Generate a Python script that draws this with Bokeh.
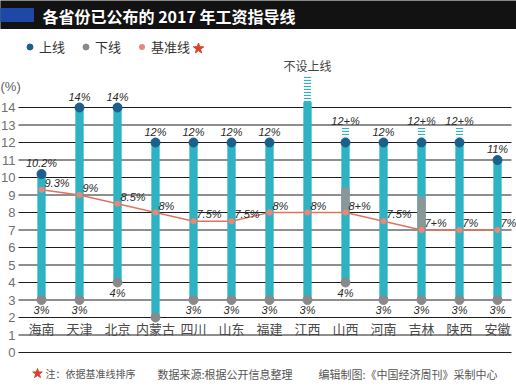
from bokeh.plotting import figure
from bokeh.models import Range1d, Legend, LegendItem
from bokeh.core.properties import value
from bokeh.embed import file_html
from bokeh.resources import INLINE

# ---------------- data ----------------
provinces = ["海南", "天津", "北京", "内蒙古", "四川", "山东", "福建",
             "江西", "山西", "河南", "吉林", "陕西", "安徽"]
upper = [10.2, 14, 14, 12, 12, 12, 12, None, 12, 12, 12, 12, 11]
upper_labels = ["10.2%", "14%", "14%", "12%", "12%", "12%", "12%",
                "不设上线", "12+%", "12%", "12+%", "12+%", "11%"]
# open-ended upper limits (striped extension)
ext_bottom = [None, None, None, None, None, None, None, 14.3, 12.3, None, 12.3, 12.3, None]
ext_top = [None, None, None, None, None, None, None, 15.85, 12.85, None, 12.85, 12.85, None]
lower = [3, 3, 4, 2, 3, 3, 3, 3, 4, 3, 3, 3, 3]
lower_labels = ["3%", "3%", "4%", "", "3%", "3%", "3%", "3%", "4%", "3%", "3%", "3%", "3%"]
base = [9.3, 9, 8.5, 8, 7.5, 7.5, 8, 8, 8, 7.5, 7, 7, 7]
base_labels = ["9.3%", "9%", "8.5%", "8%", "7.5%", "7.5%", "8%", "8%",
               "8+%", "7.5%", "7+%", "7%", "7%"]
base_range_top = [None, None, None, None, None, None, None, None, 9.4, None, 8.9, None, None]
y_ticks = list(range(0, 15))
y_tick_labels = [str(t) for t in y_ticks]

title = "各省份已公布的 2017 年工资指导线"
legend_labels = ["上线", "下线", "基准线"]
note = "注：依据基准线排序"
source_txt = "数据来源:根据公开信息整理"
editor_txt = "编辑制图:《中国经济周刊》采制中心"

# ---------------- layout ----------------
W, H = 516, 388
X0, X1 = -41 / 38, 12 + 19 / 38
Y0, Y1 = -36 / 17.5, 352 / 17.5


def px(xp):  # pixel -> data x
    return X0 + xp / W * (X1 - X0)


def py(yp):  # pixel -> data y
    return Y1 - yp / H * (Y1 - Y0)


TEAL = "#2db3c3"
UP_C = "#1b5f8c"
LOW_C = "#8a8a8a"
BASE_C = "#e0735f"
GREY_SEG = "#8a9799"
CJK = value("Noto Sans CJK SC")
LAT = value("Liberation Sans")

xs = list(range(len(provinces)))

p = figure(width=W, height=H, x_range=Range1d(X0, X1), y_range=Range1d(Y0, Y1),
           output_backend="svg", toolbar_location=None, min_border=0,
           x_axis_type=None, y_axis_type=None)
p.grid.visible = False
p.outline_line_color = None
p.background_fill_color = "white"
p.border_fill_color = "white"

# title bar
p.quad(left=[X0], right=[X1], bottom=[py(28)], top=[Y1 + 1], color="#121212")
p.quad(left=[X0], right=[px(33)], bottom=[py(21)], top=[py(8)], color="#1e48a8")
p.text(x=[px(42)], y=[py(15)], text=[title], text_font=CJK, text_font_size="16px",
       text_font_style="bold", text_color="white", text_baseline="middle")

# grid lines & y labels
p.segment(x0=[px(18)] * len(y_ticks), y0=y_ticks, x1=[px(511)] * len(y_ticks), y1=y_ticks,
          line_color="#1e1e1e", line_width=1)
p.text(x=[px(15)] * len(y_ticks), y=y_ticks, text=y_tick_labels, text_font=LAT,
       text_font_size="13px", text_color="#707070", text_align="right",
       text_baseline="middle")
p.text(x=[px(0)], y=[py(86)], text=["(%)"], text_font=LAT, text_font_size="13px",
       text_color="#606060", text_baseline="middle")

# bars
bar_top = [u if u is not None else eb for u, eb in zip(upper, ext_bottom)]
p.vbar(x=xs, bottom=lower, top=bar_top, width=0.19, color=TEAL)

# grey uncertain segments
gi = [i for i, t in enumerate(base_range_top) if t is not None]
p.vbar(x=[xs[i] for i in gi], bottom=[base[i] for i in gi],
       top=[base_range_top[i] for i in gi], width=0.19, color=GREY_SEG)

# striped extensions
ei = [i for i, t in enumerate(ext_top) if t is not None]
p.vbar(x=[xs[i] for i in ei], bottom=[ext_bottom[i] for i in ei],
       top=[ext_top[i] for i in ei], width=0.19, fill_color=None, line_color=None,
       hatch_pattern="horizontal_line", hatch_color=TEAL, hatch_scale=3, hatch_weight=1.2)

# base line
p.line(x=xs, y=base, line_color=BASE_C, line_width=1.3)
base_pts = p.scatter(x=xs, y=base, size=6, marker="circle", fill_color="#e58a7a",
                     line_color=None)

# dots
ui = [i for i, u in enumerate(upper) if u is not None]
up_r = p.scatter(x=[xs[i] for i in ui], y=[upper[i] for i in ui], size=9,
                 marker="circle", color=UP_C)
low_r = p.scatter(x=xs, y=lower, size=9, marker="circle", color=LOW_C)

# labels: upper
ci = [i for i in ui if ext_top[i] is None]
p.text(x=[xs[i] for i in ci], y=[upper[i] for i in ci], text=[upper_labels[i] for i in ci],
       text_font=LAT, text_font_style="italic", text_font_size="11px",
       text_color="#2a2a2a", text_align="center", text_baseline="bottom", y_offset=-5)
oi = [i for i in ei if upper[i] is not None]
p.text(x=[xs[i] for i in oi], y=[ext_top[i] for i in oi], text=[upper_labels[i] for i in oi],
       text_font=LAT, text_font_style="italic", text_font_size="11px",
       text_color="#2a2a2a", text_align="center", text_baseline="bottom", y_offset=-1)
ni = [i for i in ei if upper[i] is None]
p.text(x=[xs[i] for i in ni], y=[ext_top[i] for i in ni], text=[upper_labels[i] for i in ni],
       text_font=CJK, text_font_size="12px", text_color="#444444",
       text_align="center", text_baseline="bottom", y_offset=-1)

# labels: lower
p.text(x=xs, y=lower, text=lower_labels, text_font=LAT, text_font_style="italic",
       text_font_size="11px", text_color="#2a2a2a", text_align="center",
       text_baseline="top", y_offset=4)

# labels: base
p.text(x=xs, y=base, text=base_labels, text_font=LAT, text_font_style="italic",
       text_font_size="11px", text_color="#2a2a2a", text_align="left",
       text_baseline="middle", x_offset=3, y_offset=-7)

# category labels
p.text(x=xs, y=[1.37] * len(xs), text=provinces, text_font=CJK, text_font_size="13px",
       text_color="#4a4a4a", text_align="center", text_baseline="middle")

# legend
legend = Legend(items=[LegendItem(label=legend_labels[0], renderers=[up_r]),
                       LegendItem(label=legend_labels[1], renderers=[low_r]),
                       LegendItem(label=legend_labels[2], renderers=[base_pts])],
                orientation="horizontal", location=(22, 332), glyph_width=15,
                glyph_height=15, label_standoff=2, spacing=13, padding=0, margin=0,
                border_line_color=None, background_fill_alpha=0,
                label_text_font="Noto Sans CJK SC", label_text_font_size="13px",
                label_text_color="#333333", label_text_baseline="middle")
p.add_layout(legend, "center")
p.scatter(x=[px(198)], y=[py(48)], marker="star", size=11, color="#d8412c")

# footer
p.scatter(x=[px(37)], y=[py(373)], marker="star", size=10, color="#d8412c")
p.text(x=[px(45)], y=[py(373)], text=[note], text_font=CJK, text_font_size="10px",
       text_color="#555555", text_baseline="middle")
p.text(x=[px(157)], y=[py(373)], text=[source_txt], text_font=CJK, text_font_size="11px",
       text_color="#555555", text_baseline="middle")
p.text(x=[px(318)], y=[py(373)], text=[editor_txt], text_font=CJK, text_font_size="11px",
       text_color="#555555", text_baseline="middle")

open("out.html", "w").write(file_html(p, INLINE))
